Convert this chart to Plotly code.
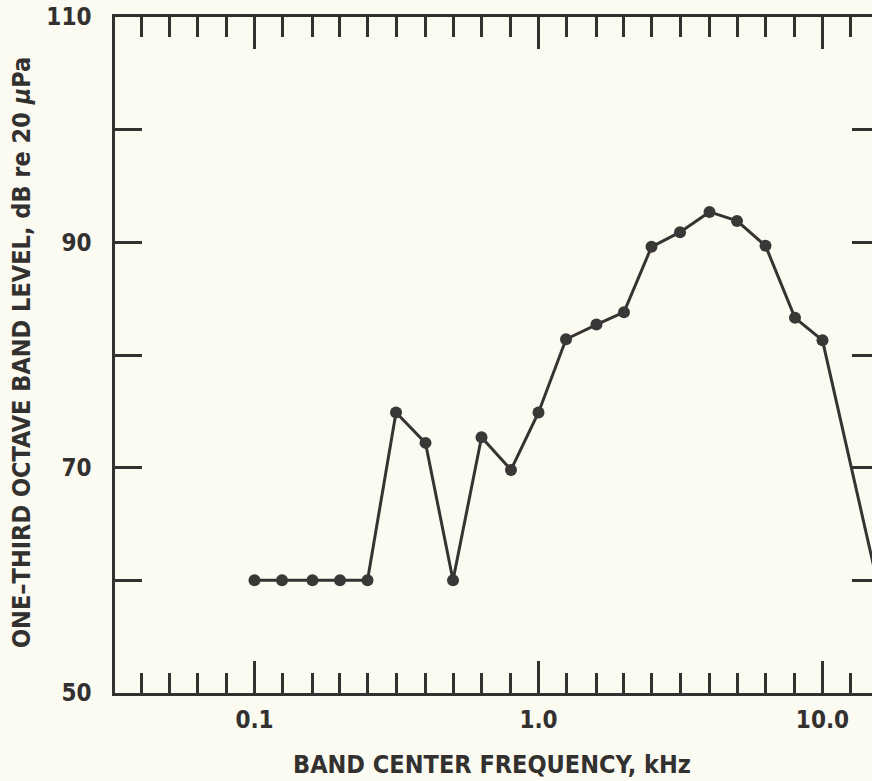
import math
import plotly.graph_objects as go

# ---- data ----
freq_khz = [0.1, 0.125, 0.16, 0.2, 0.25, 0.315, 0.4, 0.5, 0.63, 0.8, 1.0,
            1.25, 1.6, 2.0, 2.5, 3.15, 4.0, 5.0, 6.3, 8.0, 10.0, 16.0]
level_db = [60.0, 60.0, 60.0, 60.0, 60.0, 74.9, 72.2, 60.0, 72.7, 69.8, 74.9,
            81.4, 82.7, 83.8, 89.6, 90.9, 92.7, 91.9, 89.7, 83.3, 81.3, 58.6]

major_x_ticks = [0.1, 1.0, 10.0]
major_x_labels = ["0.1", "1.0", "10.0"]
minor_x_ticks = [0.04, 0.05, 0.063, 0.08, 0.125, 0.16, 0.2, 0.25, 0.315, 0.4,
                 0.5, 0.63, 0.8, 1.25, 1.6, 2.0, 2.5, 3.15, 4.0, 5.0, 6.3, 8.0,
                 12.5, 16.0]
y_ticks = [50, 60, 70, 80, 90, 100, 110]
y_labels = ["50", "", "70", "", "90", "", "110"]
right_y_ticks = [60, 70, 80, 90, 100]

x_title = "BAND CENTER FREQUENCY, kHz"
y_title = "ONE\u2013THIRD OCTAVE BAND LEVEL, dB re 20 <i>\u03bc</i>Pa"

INK = "#333130"
BG = "#fbfbf2"
FONT = "DejaVu Sans Condensed, Liberation Sans Narrow, sans-serif"

fig = go.Figure()
fig.add_trace(go.Scatter(
    x=freq_khz, y=level_db, mode="lines+markers",
    line=dict(color="#363333", width=3),
    marker=dict(color="#3a3737", size=12, symbol="circle"),
    showlegend=False, hoverinfo="x+y",
))
# empty trace so the right-hand tick axis is created
fig.add_trace(go.Scatter(x=[], y=[], yaxis="y2", showlegend=False,
                         hoverinfo="skip"))

x_range = [math.log10(0.1) - (254.5 - 115) / 284.0,
           math.log10(0.1) + (872 - 254.5) / 284.0]

fig.update_layout(
    width=872, height=781,
    margin=dict(l=115, r=0, t=17, b=88),
    paper_bgcolor=BG, plot_bgcolor=BG,
    font=dict(family=FONT, color=INK, size=25, weight="bold"),
    xaxis=dict(
        type="log", range=x_range,
        showline=True, linecolor=INK, linewidth=2.5, mirror="ticks",
        showgrid=False, zeroline=False,
        tickmode="array", tickvals=major_x_ticks, ticktext=major_x_labels,
        ticks="inside", ticklen=32, tickwidth=2.5, tickcolor=INK,
        tickfont=dict(family=FONT, size=24, color=INK, weight="bold"),
        ticklabelstandoff=3,
        minor=dict(tickmode="array", tickvals=minor_x_ticks, ticks="inside",
                   ticklen=20, tickwidth=2.5, tickcolor=INK, showgrid=False),
    ),
    yaxis=dict(
        range=[50, 110],
        showline=True, linecolor=INK, linewidth=2.5, mirror=False,
        showgrid=False, zeroline=False,
        tickmode="array", tickvals=y_ticks, ticktext=y_labels,
        ticks="inside", ticklen=27, tickwidth=2.5, tickcolor=INK,
        tickfont=dict(family=FONT, size=24, color=INK, weight="bold"),
        ticklabelstandoff=16,
    ),
    yaxis2=dict(
        range=[50, 110], overlaying="y", side="right", anchor="x",
        showline=False, showgrid=False, zeroline=False,
        tickmode="array", tickvals=right_y_ticks, showticklabels=False,
        ticks="inside", ticklen=20, tickwidth=2.5, tickcolor=INK,
    ),
)

fig.add_annotation(
    text=x_title, xref="paper", yref="paper", x=(492 - 115) / 757.0, y=0,
    yshift=-71, showarrow=False, xanchor="center", yanchor="middle",
    font=dict(family=FONT, size=25, color=INK, weight="bold"),
)
fig.add_annotation(
    text=y_title, xref="paper", yref="paper", x=0, xshift=-94,
    y=(693 - 353) / 676.0, showarrow=False, textangle=-90,
    xanchor="center", yanchor="middle",
    font=dict(family=FONT, size=25, color=INK, weight="bold"),
)

fig.write_html("out.html")
